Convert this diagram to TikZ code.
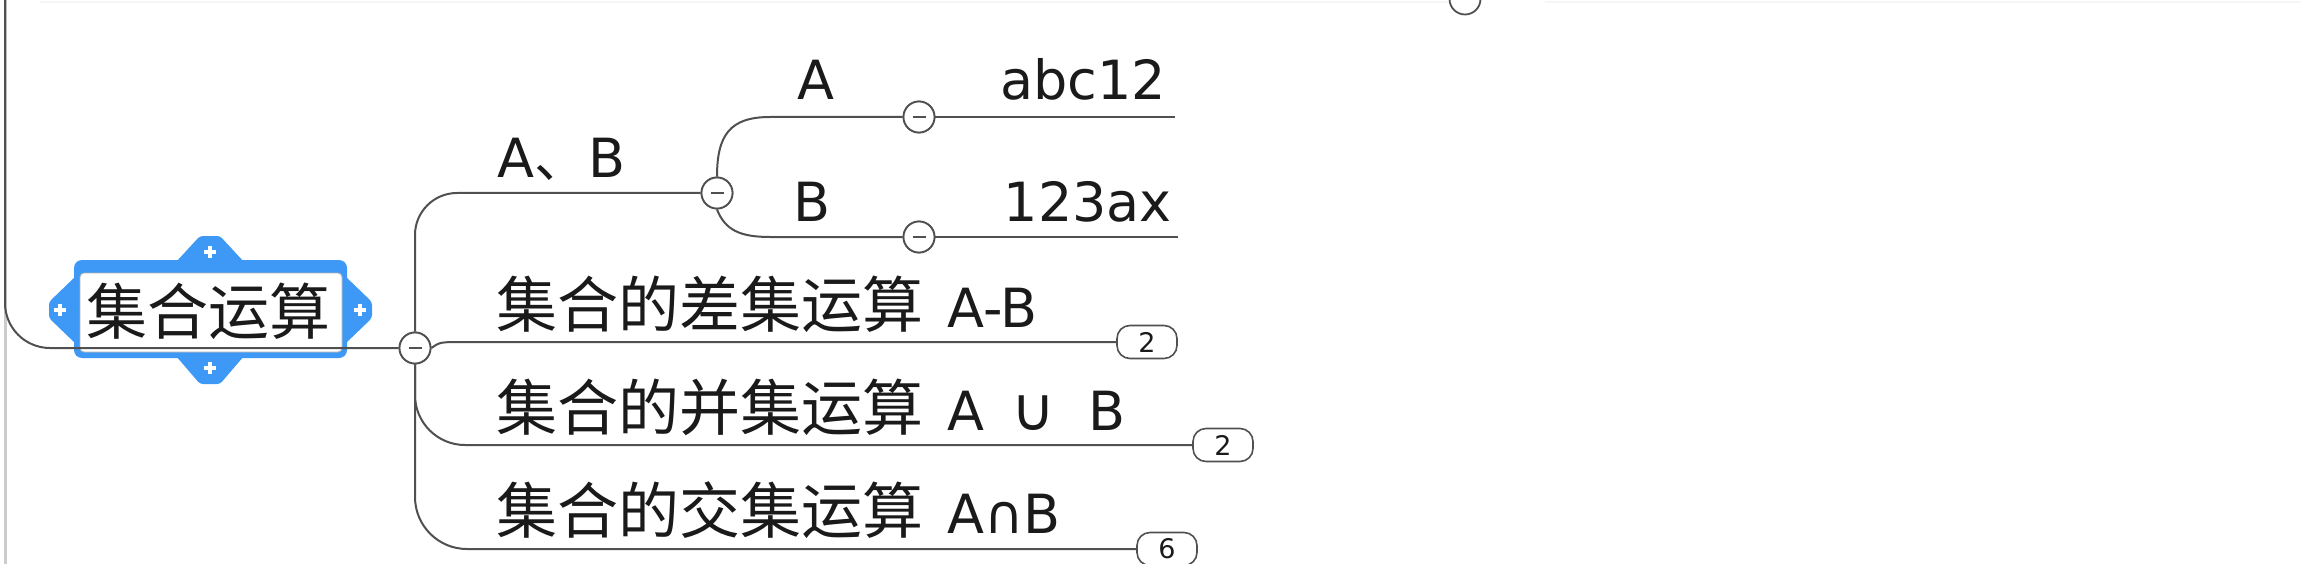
\documentclass[tikz,border=0pt]{standalone}
\usepackage{fontspec}
\setmainfont{DejaVu Sans}
\newfontfamily\cjk{Noto Sans CJK SC}
\newfontfamily\lat{DejaVu Sans}
\definecolor{ln}{HTML}{505050}
\definecolor{blu}{HTML}{3D99F5}
\definecolor{txt}{HTML}{1A1A1A}
\begin{document}
\begin{tikzpicture}[x=1pt,y=-1pt,
  conn/.style={draw=ln,line width=2pt},
  minus/.style={circle,draw=ln,fill=white,line width=1.8pt,minimum size=31pt,inner sep=0pt,
    path picture={\draw[ln,line width=1.6pt] ([xshift=-6.5pt]path picture bounding box.center) -- ([xshift=6.5pt]path picture bounding box.center);}},
  badge/.style={draw=ln,fill=white,line width=1.6pt,rounded corners=13pt,minimum width=60pt,minimum height=33pt,inner sep=0pt,text=txt,font=\lat\fontsize{27}{27}\selectfont},
  cjkt/.style={anchor=base west,inner sep=0pt,text=txt,font=\cjk\fontsize{61}{61}\selectfont},
  latt/.style={anchor=base west,inner sep=0pt,text=txt,font=\lat\fontsize{54}{54}\selectfont},
  plusmark/.style={draw=white,line width=3.5pt},
]
\useasboundingbox (0,0) rectangle (2301,564);
\fill[white] (0,0) rectangle (2301,564);
% window frame
\draw[gray!40,line width=3pt] (5,0) -- (5,564);
\draw[gray!7,line width=1.5pt] (40,2) -- (1448,2) (1545,2) -- (2301,2);

% top partial node
\node[minus] (ctop) at (1465,-1) {};

% root node shape
\fill[blu,rounded corners=8pt] (74,260) rectangle (347,358);
\fill[blu,rounded corners=3pt] (176,262) -- (200,236) -- (220,236) -- (244,262) -- cycle;
\fill[blu,rounded corners=3pt] (176,356) -- (200,384) -- (220,384) -- (244,356) -- cycle;
\fill[blu,rounded corners=3pt] (76,276) -- (49,302) -- (49,318) -- (76,344) -- cycle;
\fill[blu,rounded corners=3pt] (345,276) -- (372,302) -- (372,318) -- (345,344) -- cycle;
\draw[plusmark] (204,252) -- (216,252) (210,246) -- (210,258);
\draw[plusmark] (204,368) -- (216,368) (210,362) -- (210,374);
\draw[plusmark] (54,310) -- (66,310) (60,304) -- (60,316);
\draw[plusmark] (354,310) -- (366,310) (360,304) -- (360,316);
\filldraw[fill=white,draw=gray!60,line width=0.8pt,rounded corners=4pt] (80,273) rectangle (342,352);
\node[cjkt] (root) at (86,334) {集合运算};

% circles and badges
\node[minus] (c0) at (415,348) {};
\node[minus] (c1) at (717,193) {};
\node[minus] (cA) at (919,117) {};
\node[minus] (cB) at (919,237) {};
\node[badge] (b1) at (1147,342) {2};
\node[badge] (b2) at (1223,445) {2};
\node[badge] (b3) at (1167,549) {6};
\coordinate (ltop) at (5,0);
\coordinate (eA) at (1175,117);
\coordinate (eB) at (1178,237);

% connectors
\draw[conn,rounded corners=45pt] (ltop) |- (c0.west);
\draw[conn,rounded corners=42pt] (c0.north) |- (c1.west);
\draw[conn] (c0.east) .. controls (440,342) .. (465,342) -- (b1.west);
\draw[conn,rounded corners=50pt] (c0.south) |- (b2.west);
\draw[conn,rounded corners=52pt] (c0.south) |- (b3.west);
\draw[conn] (c1.north) .. controls (717,135) and (730,117) .. (770,117) -- (cA.west);
\draw[conn] (c1.south) .. controls (725,230) and (740,237) .. (770,237) -- (cB.west);
\draw[conn] (cA.east) -- (eA);
\draw[conn] (cB.east) -- (eB);

% redraw circles on top
\node[minus] at (c0) {};
\node[minus] at (c1) {};
\node[minus] at (cA) {};
\node[minus] at (cB) {};

% texts
\node[latt] (tAB) at (497,178) {A{\cjk 、}B};
\node[latt] (tA) at (797,100) {A};
\node[latt] (tB) at (793,222) {B};
\node[latt,anchor=base east] (tabc) at (1166,100) {abc12};
\node[latt,anchor=base east] (t123) at (1172,222) {123ax};
\node[cjkt] (t1) at (496,327) {集合的差集运算{\lat\fontsize{54}{54}\selectfont\hspace{24pt}A-B}};
\node[cjkt] (t2) at (496,430) {集合的并集运算{\lat\fontsize{54}{54}\selectfont\hspace{24pt}A\hspace{27pt}{\fontsize{60}{60}\selectfont ∪}\hspace{33pt}B}};
\node[cjkt] (t3) at (496,533) {集合的交集运算{\lat\fontsize{54}{54}\selectfont\hspace{24pt}A∩B}};
\end{tikzpicture}
\end{document}
